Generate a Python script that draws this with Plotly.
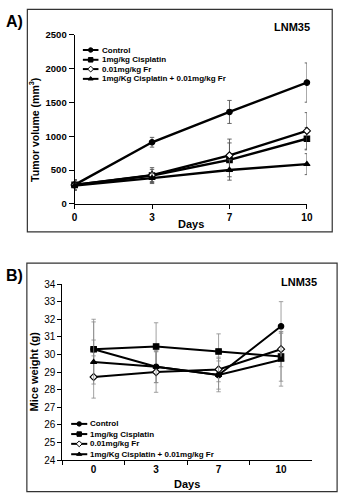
import plotly.graph_objects as go

# ---- data -------------------------------------------------------------
days = ["0", "3", "7", "10"]
series_names = ["Control", "1mg/kg Cisplatin", "0.01mg/kg Fr",
                "1mg/Kg Cisplatin + 0.01mg/kg Fr"]

# Panel A: tumor volume (mm^3), mean and error
vol_control = [280, 910, 1358, 1792]
vol_control_err = [75, 72, 170, 290]
vol_cis = [280, 419, 650, 962]
vol_cis_err = [75, 90, 250, 165]
vol_fr = [280, 425, 717, 1078]
vol_fr_err = [75, 110, 240, 270]
vol_combo = [272, 380, 500, 587]
vol_combo_err = [70, 80, 150, 155]
sig_days = ["7", "10"]
sig_marks = [215, 320]

# Panel B: mice weight (g), mean and error
wt_control = [30.3, 29.3, 28.83, 31.6]
wt_control_err = [1.7, 0.9, 0.95, 1.4]
wt_cis = [30.3, 30.45, 30.17, 29.88]
wt_cis_err = [1.55, 1.35, 1.0, 1.4]
wt_fr = [28.72, 29.0, 29.15, 30.3]
wt_fr_err = [1.2, 1.15, 0.7, 1.0]
wt_combo = [29.57, 29.3, 28.83, 29.7]
wt_combo_err = [1.25, 0.9, 0.8, 1.5]

# ---- styling ----------------------------------------------------------
W, H = 347, 500
FONT = "Liberation Sans, Arial, Helvetica, sans-serif"
symbols = ["circle", "square", "diamond", "triangle-up"]
marker_fill = ["black", "black", "white", "black"]


def px_x(x):
    return x / W


def px_y(y):
    return 1 - y / H


fig = go.Figure()

panel_a = [(vol_control, vol_control_err), (vol_cis, vol_cis_err),
           (vol_fr, vol_fr_err), (vol_combo, vol_combo_err)]
panel_b = [(wt_control, wt_control_err), (wt_cis, wt_cis_err),
           (wt_fr, wt_fr_err), (wt_combo, wt_combo_err)]

for i, (vals, err) in enumerate(panel_a):
    fig.add_trace(go.Scatter(
        x=days, y=vals, xaxis="x", yaxis="y", mode="lines+markers",
        name=series_names[i], showlegend=False, cliponaxis=False,
        line=dict(color="black", width=2.4),
        marker=dict(symbol=symbols[i], size=5.5, color=marker_fill[i],
                    line=dict(color="black", width=1.1)),
        error_y=dict(type="data", array=err, visible=True,
                     color="#555555", thickness=0.9, width=2.2),
    ))

for i, (vals, err) in enumerate(panel_b):
    fig.add_trace(go.Scatter(
        x=days, y=vals, xaxis="x2", yaxis="y2", mode="lines+markers",
        name=series_names[i], showlegend=False, cliponaxis=False,
        line=dict(color="black", width=2),
        marker=dict(symbol=symbols[i], size=5.5, color=marker_fill[i],
                    line=dict(color="black", width=1.1)),
        error_y=dict(type="data", array=err, visible=True,
                     color="#8a8a8a", thickness=0.8, width=2.2),
    ))

# significance marks in panel A
for d, v in zip(sig_days, sig_marks):
    fig.add_annotation(x=d, y=v, xref="x", yref="y", text="*",
                       showarrow=False,
                       font=dict(family=FONT, size=8, color="#555555"))

# ---- legend keys drawn in page pixels on a full-page helper axis -------
legend_rows = {
    "A": dict(ys=[45, 55, 64.5, 74.5], x0=82, x1=98, tx=99.5),
    "B": dict(ys=[427.3, 437.7, 447.7, 458.3], x0=70, x1=86.5, tx=87.5),
}
for key, spec in legend_rows.items():
    for i, y in enumerate(spec["ys"]):
        fig.add_trace(go.Scatter(
            x=[spec["x0"], spec["x1"]], y=[y, y], xaxis="x3", yaxis="y3",
            mode="lines", line=dict(color="black", width=2),
            showlegend=False, hoverinfo="skip", cliponaxis=False))
        fig.add_trace(go.Scatter(
            x=[(spec["x0"] + spec["x1"]) / 2], y=[y], xaxis="x3", yaxis="y3",
            mode="markers",
            marker=dict(symbol=symbols[i], size=4.5, color=marker_fill[i],
                        line=dict(color="black", width=1)),
            showlegend=False, hoverinfo="skip", cliponaxis=False))
        fig.add_annotation(x=spec["tx"], y=y, xref="x3", yref="y3",
                           text=series_names[i], showarrow=False,
                           xanchor="left", yanchor="middle",
                           font=dict(family=FONT, size=8, color="black",
                                     weight="bold"))

# ---- text labels -------------------------------------------------------
def label(x, y, text, size, bold=True, angle=0):
    fig.add_annotation(x=x, y=y, xref="x3", yref="y3", text=text,
                       showarrow=False, textangle=angle,
                       xanchor="center", yanchor="middle",
                       font=dict(family=FONT, size=size, color="black",
                                 weight="bold" if bold else "normal"))


label(12, 16, "A)", 16)
label(12, 276, "B)", 16)
label(297, 21, "LNM35", 11)
label(304, 282.5, "LNM35", 11)
label(31.5, 127, "Tumor volume (mm<sup>3</sup>)", 10.5, angle=-90)
label(31.5, 374, "Mice weight (g)", 11, angle=-90)
label(193, 223, "Days", 11)
label(189, 488.5, "Days", 11)

# ---- panel frames ------------------------------------------------------
for (x0, y0, x1, y1) in [(25, 3.5, 338, 231), (24.5, 263, 343, 496.5)]:
    fig.add_shape(type="rect", xref="paper", yref="paper",
                  x0=px_x(x0), x1=px_x(x1), y0=px_y(y1), y1=px_y(y0),
                  line=dict(color="#333333", width=1.2),
                  fillcolor="rgba(0,0,0,0)", layer="below")

# ---- axes --------------------------------------------------------------
tick_bold = dict(family=FONT, size=9.5, color="black", weight="bold")
common_x = dict(type="category", showgrid=False, zeroline=False,
                showline=True, linecolor="black", linewidth=1,
                ticks="outside", ticklen=4, tickcolor="black",
                tickfont=dict(family=FONT, size=10, color="black",
                              weight="bold"),
                fixedrange=True)
common_y = dict(showgrid=False, zeroline=False, showline=True,
                linecolor="black", linewidth=1, ticks="outside",
                ticklen=5, tickcolor="black", fixedrange=True)

fig.update_layout(
    width=W, height=H,
    margin=dict(l=0, r=0, t=0, b=0),
    paper_bgcolor="white",
    plot_bgcolor="rgba(0,0,0,0)",
    showlegend=False,
    xaxis=dict(common_x, domain=[px_x(73.5), px_x(312)], anchor="y",
               range=[0, 3]),
    yaxis=dict(common_y, domain=[px_y(202.3), px_y(29.3)], anchor="x",
               range=[0, 2500], dtick=500, tickfont=tick_bold),
    xaxis2=dict(common_x, domain=[px_x(61), px_x(317.5)], anchor="y2",
                range=[-0.5, 3.5], tickson="boundaries"),
    yaxis2=dict(common_y, domain=[px_y(464.3), px_y(284.3)], anchor="x2",
                range=[24, 34], dtick=1, ticklen=4,
                tickfont=dict(family=FONT, size=10, color="black")),
    xaxis3=dict(domain=[0, 1], range=[0, W], visible=False, anchor="y3",
                fixedrange=True),
    yaxis3=dict(domain=[0, 1], range=[H, 0], visible=False, anchor="x3",
                fixedrange=True),
)

fig.write_html("out.html")
